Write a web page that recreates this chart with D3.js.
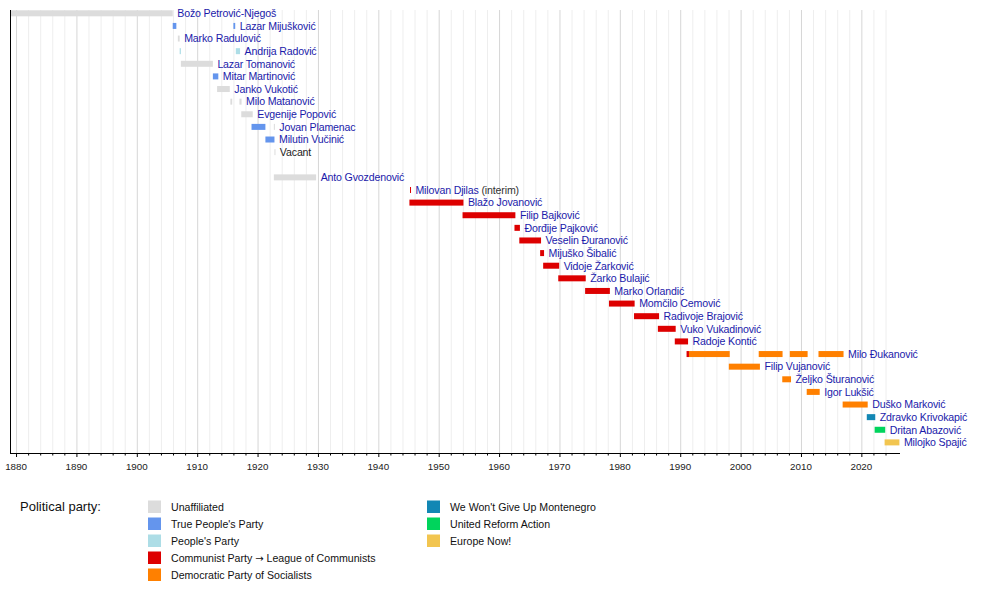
<!DOCTYPE html>
<html>
<head>
<meta charset="utf-8">
<script src="https://cdn.jsdelivr.net/npm/d3@7"></script>
<style>
  body { margin: 0; background: #fff; }
  text { font-family: "Liberation Sans", Arial, sans-serif; }
</style>
</head>
<body>
<svg id="chart" width="1000" height="592"></svg>
<script>
// Prime ministers, one row each (row 12 is left empty in the original)
var names = [
    'Božo Petrović-Njegoš', 'Lazar Mijušković', 'Marko Radulović', 'Andrija Radović',
    'Lazar Tomanović', 'Mitar Martinović', 'Janko Vukotić', 'Milo Matanović',
    'Evgenije Popović', 'Jovan Plamenac', 'Milutin Vučinić', 'Vacant', '',
    'Anto Gvozdenović', 'Milovan Djilas', 'Blažo Jovanović', 'Filip Bajković',
    'Đorđije Pajković', 'Veselin Đuranović', 'Mijuško Šibalić', 'Vidoje Žarković',
    'Žarko Bulajić', 'Marko Orlandić', 'Momčilo Cemović', 'Radivoje Brajović',
    'Vuko Vukadinović', 'Radoje Kontić', 'Milo Đukanović', 'Filip Vujanović',
    'Željko Šturanović', 'Igor Lukšić', 'Duško Marković', 'Zdravko Krivokapić',
    'Dritan Abazović', 'Milojko Spajić'
];

var parties = [
    'Unaffiliated', 'True People\'s Party', 'People\'s Party',
    'Communist Party \u2192 League of Communists', 'Democratic Party of Socialists',
    'We Won\'t Give Up Montenegro', 'United Reform Action', 'Europe Now!'
];
var partyColors = ['#dcdcdc', '#6495ed', '#addde6', '#dd0000', '#ff8000', '#1287b4', '#00d45c', '#f2c550'];

// terms: [row, from, to, party index]
var terms = [
    [0, 1879.1, 1905.95, 0],
    [1, 1905.95, 1906.55, 1], [1, 1916.0, 1916.3, 1],
    [2, 1906.8, 1907.1, 0],
    [3, 1907.1, 1907.3, 2], [3, 1916.4, 1917.1, 2],
    [4, 1907.3, 1912.6, 0],
    [5, 1912.6, 1913.5, 1],
    [6, 1913.3, 1915.4, 0],
    [7, 1915.5, 1915.8, 0], [7, 1917.0, 1917.35, 0],
    [8, 1917.3, 1919.2, 0],
    [9, 1919.0, 1921.3, 1], [9, 1922.7, 1922.85, 0],
    [10, 1921.3, 1922.8, 1],
    [11, 1922.8, 1922.95, 0],
    [13, 1922.7, 1929.7, 0],
    [14, 1945.25, 1945.4, 3],
    [15, 1945.15, 1954.1, 3],
    [16, 1953.95, 1962.7, 3],
    [17, 1962.55, 1963.45, 3],
    [18, 1963.35, 1966.95, 3],
    [19, 1966.8, 1967.45, 3],
    [20, 1967.3, 1969.95, 3],
    [21, 1969.8, 1974.35, 3],
    [22, 1974.25, 1978.35, 3],
    [23, 1978.2, 1982.45, 3],
    [24, 1982.35, 1986.5, 3],
    [25, 1986.3, 1989.25, 3],
    [26, 1989.1, 1991.3, 3],
    [27, 1991.05, 1991.45, 3], [27, 1991.45, 1998.2, 4], [27, 2003.0, 2006.95, 4],
    [27, 2008.15, 2011.1, 4], [27, 2012.9, 2017.05, 4],
    [28, 1998.05, 2003.2, 4],
    [29, 2006.9, 2008.35, 4],
    [30, 2010.95, 2013.1, 4],
    [31, 2016.9, 2021.05, 4],
    [32, 2020.9, 2022.3, 5],
    [33, 2022.2, 2023.95, 6],
    [34, 2023.85, 2026.3, 7]
];

var interimRows = [14];
var plainRows = [11];

var svg = d3.select('#chart');
var plot = {l: 10, r: 900, t: 10, b: 453};

var x = d3.scaleLinear().domain([1879, 2026.4]).range([plot.l, plot.r]);
var y = d3.scaleBand().domain(d3.range(names.length)).range([7, 448.7]);

// grid lines, one every two years, darker at each decade
var gridG = svg.append('g').attr('class', 'grid');
gridG.selectAll('line')
    .data(d3.range(1880, 2026, 2))
    .enter()
    .append('line')
    .attr('x1', function(d){ return x(d) + 0.5; })
    .attr('x2', function(d){ return x(d) + 0.5; })
    .attr('y1', plot.t)
    .attr('y2', plot.b)
    .attr('stroke', function(d){ return d % 10 === 0 ? '#d6d6d6' : '#eeeeee'; })
    .attr('stroke-width', 1);

// bars
svg.append('g').selectAll('rect')
    .data(terms)
    .enter()
    .append('rect')
    .attr('x', function(d){ return x(d[1]); })
    .attr('width', function(d){ return Math.max(1, x(d[2]) - x(d[1])); })
    .attr('y', function(d){ return y(d[0]) + y.bandwidth()/2 - 3; })
    .attr('height', 6)
    .attr('fill', function(d){ return partyColors[d[3]]; });

// names after the last term of each row
var labels = svg.append('g').selectAll('text')
    .data(names.map(function(n, i){ return {name: n, row: i}; }).filter(function(d){ return d.name; }))
    .enter()
    .append('text')
    .attr('x', function(d){
        var ends = terms.filter(function(t){ return t[0] === d.row; }).map(function(t){ return t[2]; });
        return x(d3.max(ends)) + 4.5;
    })
    .attr('y', function(d){ return y(d.row) + y.bandwidth()/2 + 3.8; })
    .style('font-size', '10.6px')
    .style('letter-spacing', '-0.15px')
    .attr('fill', function(d){ return plainRows.indexOf(d.row) >= 0 ? '#222' : '#1a1aaa'; });

labels.append('tspan').text(function(d){ return d.name; });
labels.filter(function(d){ return interimRows.indexOf(d.row) >= 0; })
    .append('tspan')
    .attr('fill', '#333')
    .text(' (interim)');

// axes
svg.append('line')
    .attr('x1', plot.l + 0.5).attr('x2', plot.l + 0.5)
    .attr('y1', plot.t).attr('y2', plot.b)
    .attr('stroke', '#000');

var axisG = svg.append('g')
    .attr('transform', 'translate(0,' + plot.b + ')');
axisG.append('line')
    .attr('x1', plot.l).attr('x2', plot.r)
    .attr('y1', 0.5).attr('y2', 0.5)
    .attr('stroke', '#000');
axisG.selectAll('.minor')
    .data(d3.range(1880, 2026, 2))
    .enter()
    .append('line')
    .attr('class', 'minor')
    .attr('x1', function(d){ return x(d) + 0.5; })
    .attr('x2', function(d){ return x(d) + 0.5; })
    .attr('y1', 0)
    .attr('y2', function(d){ return d % 10 === 0 ? 4 : 2.5; })
    .attr('stroke', '#000');

var tickYears = d3.range(1880, 2021, 10);
axisG.selectAll('.ticklabel')
    .data(tickYears)
    .enter()
    .append('text')
    .attr('class', 'ticklabel')
    .attr('x', function(d){ return x(d); })
    .attr('y', 17)
    .attr('text-anchor', 'middle')
    .style('font-size', '9.8px')
    .attr('fill', '#222')
    .text(function(d){ return d; });

// legend
var legendG = svg.append('g').attr('class', 'legend');
legendG.append('text')
    .attr('x', 20)
    .attr('y', 511)
    .style('font-size', '13px')
    .attr('fill', '#111')
    .text('Political party:');

var legendItems = legendG.selectAll('.item')
    .data(parties)
    .enter()
    .append('g')
    .attr('class', 'item')
    .attr('transform', function(d, i){
        var col = i < 5 ? 0 : 1;
        var row = i < 5 ? i : i - 5;
        return 'translate(' + (col === 0 ? 148 : 427) + ',' + (500.5 + row * 17) + ')';
    });
legendItems.append('rect')
    .attr('width', 13)
    .attr('height', 12.5)
    .attr('fill', function(d, i){ return partyColors[i]; });
var legendText = legendItems.append('text')
    .attr('x', 23)
    .attr('y', 10.5)
    .style('font-size', '10.6px')
    .attr('fill', '#111');
// the arrow glyph is drawn from DejaVu, it is longer there
legendText.each(function(d){
    var t = d3.select(this);
    d.split('\u2192').forEach(function(part, k){
        if (k > 0) {
            t.append('tspan').style('font-family', 'DejaVu Sans').style('font-size', '10px').text('\u2192');
        }
        t.append('tspan').text(part);
    });
});
</script>
</body>
</html>
